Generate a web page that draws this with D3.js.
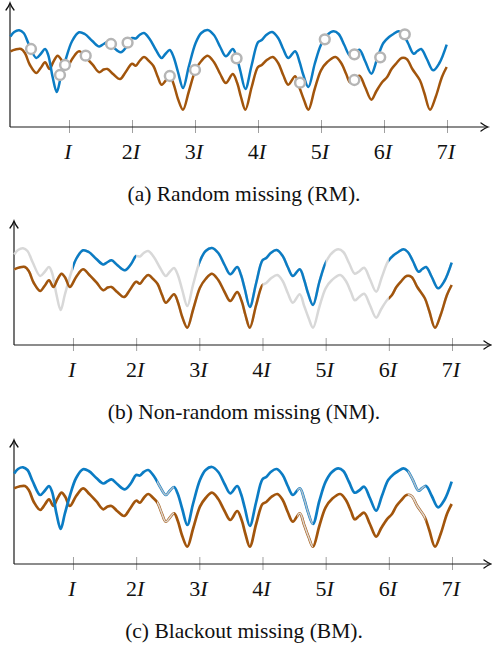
<!DOCTYPE html>
<html><head><meta charset="utf-8">
<script src="https://cdn.jsdelivr.net/npm/d3@7"></script>
<style>body{margin:0;background:#fff}svg{display:block}</style>
</head><body><svg id="c" width="492" height="647"></svg>
<script>
// ---- data (time in units of the period I, value in arbitrary units) ----
const tickValues = [1, 2, 3, 4, 5, 6, 7];
const tickNumbers = ["", "2", "3", "4", "5", "6", "7"];
const captions = ["(a) Random missing (RM).", "(b) Non-random missing (NM).", "(c) Blackout missing (BM)."];

const blueT = [0.07,0.13,0.21,0.28,0.36,0.48,0.55,0.62,0.67,0.74,0.805,0.87,0.95,1.05,1.16,1.25,1.37,1.48,1.55,1.61,1.7,1.82,1.92,2.0,2.06,2.12,2.19,2.28,2.38,2.47,2.53,2.6,2.66,2.73,2.81,2.9,3.01,3.1,3.2,3.3,3.4,3.49,3.6,3.66,3.72,3.8,3.9,4.0,4.06,4.13,4.225,4.32,4.4,4.48,4.59,4.66,4.72,4.8,4.9,5.0,5.1,5.2,5.28,5.37,5.46,5.53,5.61,5.7,5.8,5.89,5.99,6.08,6.15,6.23,6.3,6.38,6.47,6.53,6.59,6.68,6.78,6.88,6.995];
const blueV = [90.5,95,96.7,94,83,69,73,78,72,50,35,50,68,86,94.7,93,86,80.5,83,84.7,80,74.7,81,89,88.5,92,94,88,77,69,73,77,70,55,39,60,84,94,97,92,80,70.7,78,70,56,38,62,84.7,87,92,95,89,78,69,75.7,65,52,40,63,82.3,92,95.7,93,82,71.3,73.5,77.3,66,53.3,68,84,90,93,95.7,93,84,73.3,76,78,68,56.7,64,82.3];

const brownT = [0.07,0.15,0.24,0.3,0.38,0.48,0.55,0.62,0.69,0.75,0.82,0.88,0.95,1.05,1.16,1.26,1.375,1.48,1.55,1.61,1.7,1.81,1.9,2.0,2.06,2.12,2.19,2.27,2.34,2.41,2.47,2.6,2.66,2.73,2.81,2.9,3.01,3.1,3.2,3.3,3.4,3.49,3.6,3.67,3.73,3.8,3.9,4.0,4.06,4.14,4.235,4.32,4.4,4.48,4.59,4.66,4.73,4.8,4.9,5.0,5.1,5.23,5.32,5.4,5.46,5.53,5.61,5.7,5.8,5.88,5.97,6.05,6.12,6.2,6.28,6.36,6.45,6.57,6.64,6.73,6.82,6.92,6.995];
const brownV = [75.7,77.5,78,74,62,54,59,64.7,58,65,71.3,67,58,68,75.7,70,62.3,54.7,57.5,58,53,48,55,63.3,61.3,66,70,66,61,50,42.3,50.7,43,28,17.3,35,57.3,66,71.3,65,53,44,53,44,30,17.3,40,60,62,67,70,64,52,42.3,50.7,39,27,17.3,38,56.7,65,70,64,53,44.7,48,51.3,40,27.3,36,44.7,50,58,64,69,68,58,46.7,34,17.3,30,50,60];

// random-missing markers (time, value)
const rmMarkerT = [0.397,0.937,0.857,1.265,1.667,1.93,2.6,3.0,3.66,4.667,5.06,5.53,5.94,5.53,6.33];
const rmMarkerV = [78,62,52,71.3,83,84.3,51,57,68.7,44.3,87.7,72.7,69.7,47,92.7];

// non-random missing: observed intervals
const nmBlueObserved = [[0.9999,2.0],[3.0,5.0],[6.0,7.1]];
const nmBrownObserved = [[0,4.0],[6.0,7.1]];
// blackout intervals
const bmBlackoutStart = [2.33, 4.55, 6.3];
const bmBlackoutEnd = [2.6, 4.8, 6.58];

// ---- styles / layout ----
const C = {blue:"#0b7cc4", brown:"#a2550c", gray:"#d8d8d8", marker:"#b5b5b5",
           blueIn:"#b0bfcb", brownIn:"#ddd5ce"};
const panels = [
  {axisY:127, yAxisX:10, x0:6, x7:447, tipX:488, labelY:159, capY:201},
  {axisY:345, yAxisX:14, x0:9.8, x7:452, tipX:491, labelY:377, capY:419},
  {axisY:564, yAxisX:14, x0:9.8, x7:452, tipX:491, labelY:596, capY:638}
];
const svg = d3.select("#c");
const defs = svg.append("defs");
const bluePts = blueT.map((t,i)=>[t, blueV[i]]);
const brownPts = brownT.map((t,i)=>[t, brownV[i]]);

function clip(id, x, intervals){
  const cp = defs.append("clipPath").attr("id", id);
  cp.selectAll("rect").data(intervals).join("rect")
    .attr("x", d=>x(d[0])).attr("width", d=>x(d[1])-x(d[0]))
    .attr("y", 0).attr("height", 647);
  return `url(#${id})`;
}

panels.forEach((p, k) => {
  const x = d3.scaleLinear().domain([0,7]).range([p.x0, p.x7]);
  const y = d3.scaleLinear().domain([0,124]).range([p.axisY, p.axisY-124]);
  const g = svg.append("g");
  const line = d3.line().x(d=>x(d[0])).y(d=>y(d[1])).curve(d3.curveCatmullRom.alpha(0.5));

  // ticks
  const ax = g.append("g").attr("transform", `translate(0,${p.axisY})`)
    .call(d3.axisBottom(x).tickValues(tickValues).tickSize(6).tickFormat(""));
  ax.select(".domain").remove();
  ax.selectAll(".tick line").attr("y1", -7).attr("stroke", "#a0a0a0").attr("stroke-width", 1);

  // axis lines with arrows
  g.append("line").attr("x1", p.yAxisX).attr("x2", p.tipX-1).attr("y1", p.axisY).attr("y2", p.axisY)
    .attr("stroke", "#1a1a1a").attr("stroke-width", 1.2);
  g.append("line").attr("x1", p.yAxisX).attr("x2", p.yAxisX).attr("y1", p.axisY).attr("y2", y(124)+1)
    .attr("stroke", "#1a1a1a").attr("stroke-width", 1.2);
  const arrow = "M-7,-4 Q-3,-1 0,0 Q-3,1 -7,4";
  g.append("path").attr("d", arrow).attr("transform", `translate(${p.tipX},${p.axisY})`)
    .attr("fill", "none").attr("stroke", "#111").attr("stroke-width", 1.3).attr("stroke-linecap","round");
  g.append("path").attr("d", arrow).attr("transform", `translate(${p.yAxisX},${y(124)}) rotate(-90)`)
    .attr("fill", "none").attr("stroke", "#111").attr("stroke-width", 1.3).attr("stroke-linecap","round");

  // tick labels
  const tl = g.selectAll("text.tl").data(tickValues).join("text").attr("class","tl")
    .attr("x", d=>x(d)-1).attr("y", p.labelY).attr("text-anchor", "middle")
    .attr("font-family", "'Liberation Serif', 'DejaVu Serif', serif").attr("font-size", 22).attr("fill", "#111");
  tl.append("tspan").text((d,i)=>tickNumbers[i]);
  tl.append("tspan").attr("font-style", "italic").text("I");

  // caption
  g.append("text").attr("x", 244).attr("y", p.capY).attr("text-anchor", "middle")
    .attr("font-family", "'Liberation Serif', 'DejaVu Serif', serif").attr("font-size", 21.5).attr("fill", "#111")
    .attr("xml:space","preserve").text(captions[k]);

  const sw = 2.5;
  if (k === 0) {
    g.append("path").attr("d", line(brownPts)).attr("fill","none").attr("stroke", C.brown).attr("stroke-width", sw);
    g.append("path").attr("d", line(bluePts)).attr("fill","none").attr("stroke", C.blue).attr("stroke-width", sw);
    g.selectAll("circle").data(rmMarkerT.map((t,i)=>[t, rmMarkerV[i]])).join("circle")
      .attr("cx", d=>x(d[0])).attr("cy", d=>y(d[1])).attr("r", 4.9)
      .attr("fill", "#fff").attr("stroke", C.marker).attr("stroke-width", 2.5);
  } else if (k === 1) {
    g.append("path").attr("d", line(brownPts)).attr("fill","none").attr("stroke", C.gray).attr("stroke-width", sw);
    g.append("path").attr("d", line(bluePts)).attr("fill","none").attr("stroke", C.gray).attr("stroke-width", sw);
    g.append("path").attr("d", line(brownPts)).attr("fill","none").attr("stroke", C.brown).attr("stroke-width", sw)
      .attr("clip-path", clip("nmBrown", x, nmBrownObserved));
    g.append("path").attr("d", line(bluePts)).attr("fill","none").attr("stroke", C.blue).attr("stroke-width", sw)
      .attr("clip-path", clip("nmBlue", x, nmBlueObserved));
  } else {
    const bo = bmBlackoutStart.map((s,i)=>[s, bmBlackoutEnd[i]]);
    const cpath = clip("bm", x, bo);
    g.append("path").attr("d", line(brownPts)).attr("fill","none").attr("stroke", C.brown).attr("stroke-width", sw+0.2);
    g.append("path").attr("d", line(brownPts)).attr("fill","none").attr("stroke", C.brownIn).attr("stroke-width", 1.6)
      .attr("clip-path", cpath);
    g.append("path").attr("d", line(bluePts)).attr("fill","none").attr("stroke", C.blue).attr("stroke-width", sw+0.2);
    g.append("path").attr("d", line(bluePts)).attr("fill","none").attr("stroke", C.blueIn).attr("stroke-width", 1.6)
      .attr("clip-path", cpath);
  }
});
</script></body></html>
